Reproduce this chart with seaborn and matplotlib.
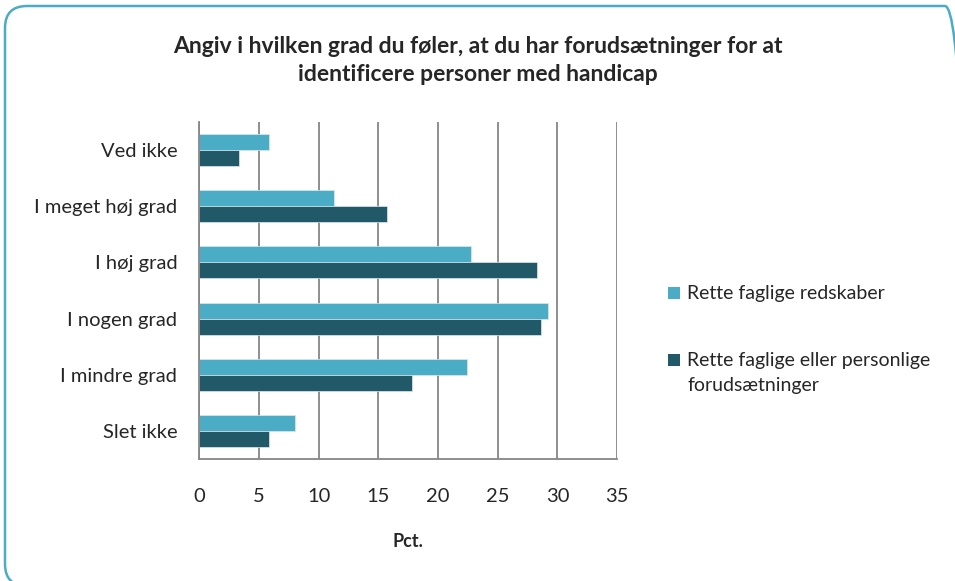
import matplotlib.pyplot as plt
import pandas as pd
import seaborn as sns
from matplotlib.patches import FancyBboxPatch, Rectangle

# Data
categories = ['Ved ikke', 'I meget høj grad', 'I høj grad', 'I nogen grad', 'I mindre grad', 'Slet ikke']
redskaber = [5.8, 11.3, 22.8, 29.2, 22.4, 8.0]
forudsaetninger = [3.3, 15.7, 28.3, 28.6, 17.8, 5.8]
series = ['Rette faglige redskaber', 'Rette faglige eller personlige\nforudsætninger']
colors = ['#4BACC6', '#215968']
x_ticks = [0, 5, 10, 15, 20, 25, 30, 35]

df = pd.DataFrame({
    'kategori': categories * 2,
    'pct': redskaber + forudsaetninger,
    'serie': [series[0]] * len(categories) + [series[1]] * len(categories),
})

sns.set_style('white')
plt.rcParams['font.family'] = ['Lato', 'DejaVu Sans']

fig = plt.figure(figsize=(9.55, 5.81), dpi=100)
ax = fig.add_axes([0.2089, 0.2100, 0.4372, 0.5800])

sns.barplot(data=df, y='kategori', x='pct', hue='serie', order=categories,
            hue_order=series, palette=colors, saturation=1, orient='h', width=0.57,
            edgecolor='#dde9ee', linewidth=0.5, ax=ax, legend=False)

ax.set_xlim(0, 35)
ax.set_ylim(5.5, -0.5)
ax.set_xticks(x_ticks)
ax.set_xticklabels([str(t) for t in x_ticks])
ax.set_xlabel('Pct.', fontsize=13, fontweight='bold', labelpad=20)
ax.set_ylabel('')

# gridlines
ax.xaxis.grid(True, color='#868686', linewidth=1.3)
ax.set_axisbelow(True)
for s in ['top', 'right']:
    ax.spines[s].set_visible(False)
for s in ['left', 'bottom']:
    ax.spines[s].set_color('#868686')
    ax.spines[s].set_linewidth(1.3)

ax.tick_params(axis='x', length=5, width=1.3, color='#868686', pad=16, labelsize=14.5)
ax.tick_params(axis='y', which='major', length=0, pad=16, labelsize=14.5)
ax.set_yticks([i - 0.5 for i in range(len(categories) + 1)], minor=True)
ax.tick_params(axis='y', which='minor', length=5, width=1.3, color='#868686')

fig.text(0.5, 0.896, 'Angiv i hvilken grad du føler, at du har forudsætninger for at\nidentificere personer med handicap',
         ha='center', va='center', fontsize=16.5, fontweight='bold', linespacing=1.45)

# legend drawn by hand so the marker sits beside the first line of text
legend_y = [2.93, 3.60]  # inches from the top
for c, label, y in zip(colors, series, legend_y):
    fig.patches.append(Rectangle((6.68, 5.81 - y - 0.06), 0.12, 0.12,
                                 transform=fig.dpi_scale_trans, facecolor=c, edgecolor='none'))
    fig.text(6.87, 5.81 - y + 0.085, label, ha='left', va='top', fontsize=14,
             linespacing=1.6, transform=fig.dpi_scale_trans)

# rounded frame, cut off at right and bottom like the reference
border = FancyBboxPatch((0.05, -0.05), 9.62, 5.80, boxstyle='round,pad=0,rounding_size=0.22',
                        transform=fig.dpi_scale_trans, facecolor='none', edgecolor='#4BACC6',
                        linewidth=1.8)
fig.patches.append(border)

fig.savefig('out.png', dpi=100)
